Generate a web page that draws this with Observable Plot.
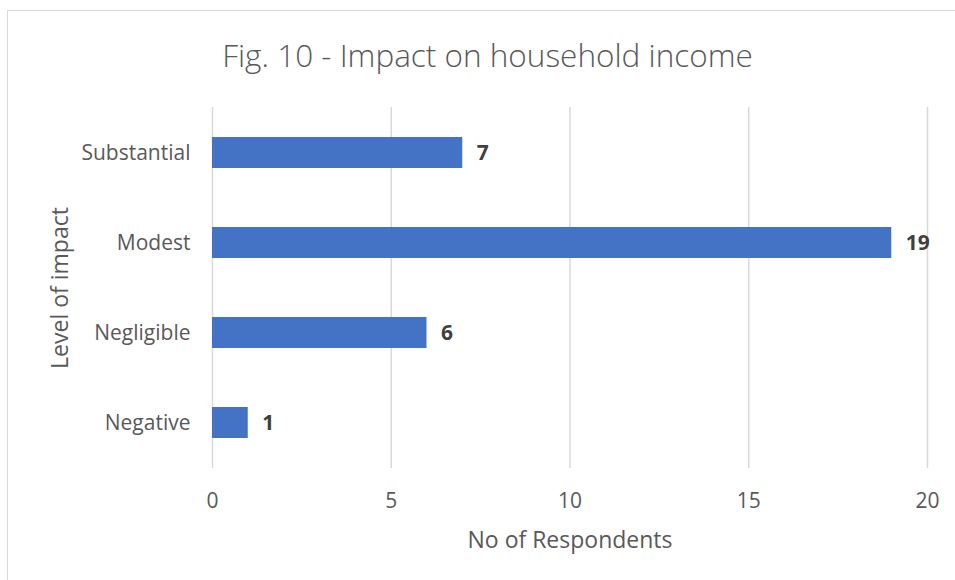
<!DOCTYPE html>
<html>
<head>
<meta charset="utf-8">
<script src="https://cdn.jsdelivr.net/npm/d3@7"></script>
<script src="https://cdn.jsdelivr.net/npm/@observablehq/plot@0.6"></script>
<style>
  html, body { margin: 0; padding: 0; background: #fff; }
  body { width: 955px; height: 580px; position: relative; overflow: hidden; font-family: "Open Sans", sans-serif; }
  #frame { position: absolute; left: 7px; top: 10px; width: 1000px; height: 700px; border: 1.5px solid #d9d9d9; box-sizing: border-box; }
  #title { position: absolute; left: 0; top: 35px; width: 975px; text-align: center; font-size: 31.5px; color: #595959; font-weight: 300; line-height: 40px; }
  #chart { position: absolute; left: 0; top: 0; }
</style>
</head>
<body>
<div id="frame"></div>
<div id="title">Fig. 10 - Impact on household income</div>
<div id="chart"></div>
<script>
const categories = ["Substantial", "Modest", "Negligible", "Negative"];
const respondents = [7, 19, 6, 1];
const xTicks = [0, 5, 10, 15, 20];

const data = categories.map((c, i) => ({level: c, n: respondents[i]}));

const chart = Plot.plot({
  width: 955,
  height: 580,
  marginLeft: 212,
  marginRight: 28,
  marginTop: 107,
  marginBottom: 112,
  style: {fontFamily: "Open Sans, sans-serif", fontSize: "21px", color: "#595959", background: "transparent"},
  x: {domain: [0, 20], ticks: xTicks, label: null},
  y: {domain: categories, paddingInner: 0.65, paddingOuter: 0.325, label: null},
  marks: [
    Plot.gridX(xTicks, {stroke: "#d9d9d9", strokeOpacity: 1, strokeWidth: 1.5}),
    Plot.axisX({ticks: xTicks, tickSize: 0, tickPadding: 25, fontSize: 21, fill: "#595959",
      label: null}),
    Plot.axisY({tickSize: 0, tickPadding: 22, fontSize: 21, fill: "#595959", label: null}),
    Plot.text(["No of Respondents"], {frameAnchor: "bottom", dy: 79, fontSize: 23, fill: "#595959"}),
    Plot.text(["Level of impact"], {frameAnchor: "left", textAnchor: "middle", dx: -152, rotate: -90, fontSize: 23, fill: "#595959"}),
    Plot.barX(data, {x: "n", y: "level", fill: "#4472C4"}),
    Plot.text(data, {x: "n", y: "level", text: d => String(d.n), textAnchor: "start", dx: 14,
      fontWeight: "bold", fontSize: 21, fill: "#404040"})
  ]
});
document.getElementById("chart").appendChild(chart);
</script>
</body>
</html>
